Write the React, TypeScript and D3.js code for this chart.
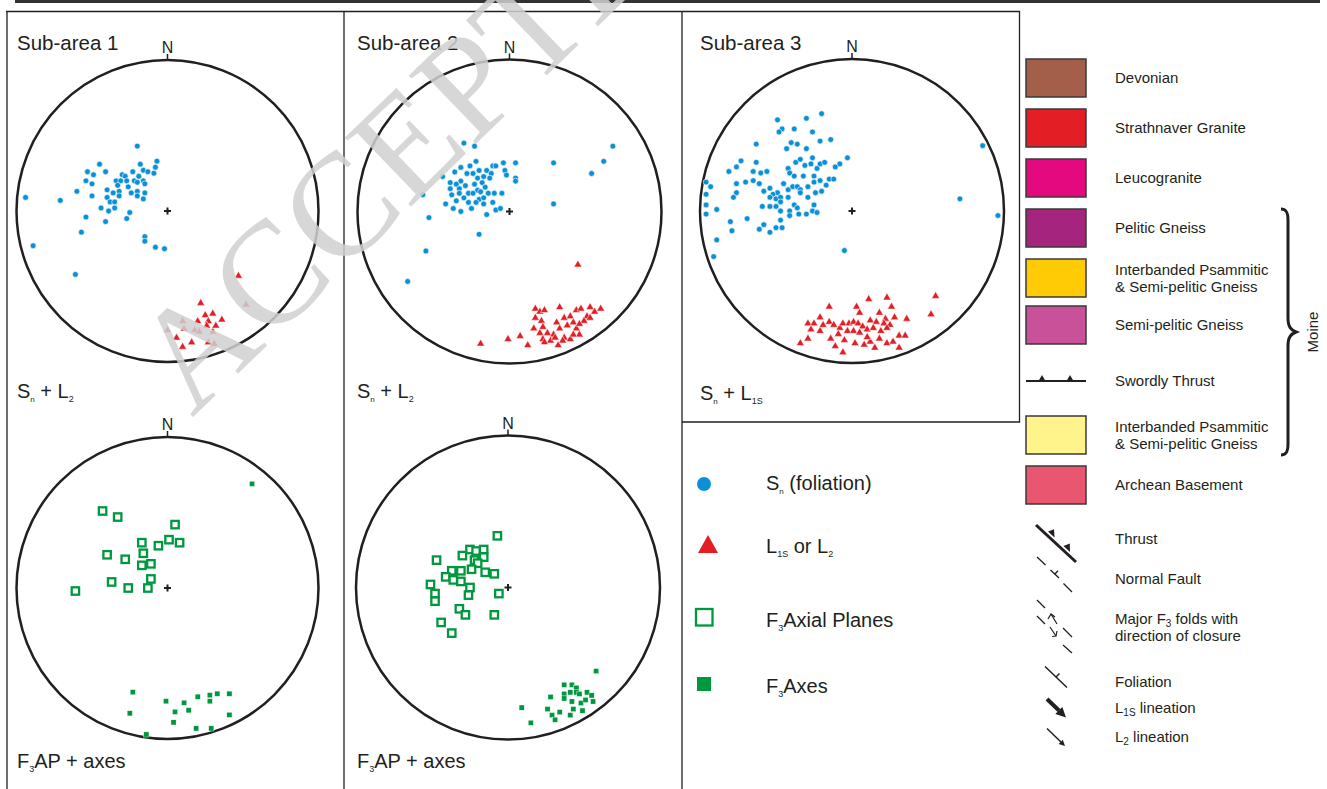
import React from "react";
import * as d3 from "d3";

type Pt = [number, number];

// projected positions on the net, unit radius (x to the east, y to the south)
const sub1Foliation: Pt[] = [
  [-0.2, -0.43], [-0.07, -0.33], [-0.45, -0.31], [-0.18, -0.31], [-0.08, -0.29], [-0.53, -0.26],
  [-0.49, -0.24], [-0.41, -0.26], [-0.23, -0.26], [-0.16, -0.27], [-0.13, -0.26], [-0.09, -0.25],
  [-0.3, -0.24], [-0.28, -0.23], [-0.34, -0.2], [-0.31, -0.2], [-0.27, -0.2], [-0.22, -0.2],
  [-0.19, -0.23], [-0.16, -0.2], [-0.54, -0.2], [-0.5, -0.18], [-0.2, -0.19], [-0.15, -0.18],
  [-0.33, -0.17], [-0.26, -0.16], [-0.4, -0.14], [-0.32, -0.13], [-0.24, -0.12], [-0.2, -0.13],
  [-0.15, -0.12], [-0.6, -0.13], [-0.5, -0.1], [-0.4, -0.09], [-0.36, -0.12], [-0.32, -0.1],
  [-0.2, -0.1], [-0.16, -0.08], [-0.94, -0.09], [-0.71, -0.07], [-0.38, -0.06], [-0.35, -0.06],
  [-0.44, -0.02], [-0.39, 0.0], [-0.35, -0.02], [-0.25, 0.01], [-0.54, 0.04], [-0.27, 0.05],
  [-0.41, 0.07], [-0.57, 0.14], [-0.15, 0.17], [-0.15, 0.2], [-0.08, 0.24], [-0.02, 0.25],
  [-0.89, 0.23], [-0.61, 0.42],
];
const sub1Lineation: Pt[] = [
  [0.47, 0.43], [0.52, 0.62], [0.22, 0.61], [0.25, 0.69], [0.3, 0.68], [0.1, 0.73], [0.2, 0.73],
  [0.27, 0.73], [0.36, 0.72], [0.0, 0.79], [0.11, 0.78], [0.18, 0.79], [0.21, 0.8], [0.3, 0.8],
  [0.06, 0.84], [0.16, 0.87], [0.27, 0.87], [0.31, 0.88], [0.1, 0.9], [0.26, 0.76], [0.32, 0.76],
];

const sub2Foliation: Pt[] = [
  [-0.3, -0.45], [-0.23, -0.43], [-0.22, -0.33], [-0.26, -0.3], [-0.32, -0.29], [-0.36, -0.26],
  [-0.44, -0.23], [-0.39, -0.19], [-0.32, -0.2], [-0.35, -0.18], [-0.28, -0.25], [-0.24, -0.25],
  [-0.2, -0.27], [-0.15, -0.27], [-0.11, -0.3], [-0.09, -0.3], [-0.04, -0.32], [0.04, -0.32],
  [-0.03, -0.27], [-0.02, -0.24], [0.04, -0.22], [0.04, -0.2], [-0.12, -0.25], [-0.17, -0.23],
  [-0.21, -0.22], [-0.13, -0.22], [-0.18, -0.19], [-0.23, -0.18], [-0.29, -0.17], [-0.33, -0.15],
  [-0.39, -0.15], [-0.21, -0.14], [-0.16, -0.16], [-0.27, -0.12], [-0.33, -0.12], [-0.38, -0.11],
  [-0.35, -0.07], [-0.3, -0.09], [-0.24, -0.12], [-0.19, -0.13], [-0.14, -0.12], [-0.1, -0.12],
  [-0.05, -0.12], [-0.42, -0.05], [-0.37, -0.02], [-0.32, 0.0], [-0.27, -0.06], [-0.25, -0.02],
  [-0.2, -0.08], [-0.17, -0.09], [-0.15, 0.02], [-0.11, -0.06], [-0.09, -0.01], [-0.06, -0.02],
  [-0.17, -0.05], [-0.22, -0.06], [-0.57, -0.11], [-0.53, 0.04], [-0.2, 0.15], [-0.55, 0.26],
  [-0.67, 0.46], [0.29, -0.32], [0.29, -0.05], [0.54, -0.25], [0.62, -0.33], [0.68, -0.43],
];
const sub2Lineation: Pt[] = [
  [0.45, 0.35], [-0.19, 0.87], [-0.01, 0.84], [0.07, 0.82], [0.12, 0.88], [0.17, 0.64], [0.2, 0.66],
  [0.23, 0.65], [0.33, 0.63], [0.17, 0.7], [0.21, 0.72], [0.16, 0.77], [0.2, 0.8], [0.22, 0.76],
  [0.25, 0.8], [0.29, 0.81], [0.22, 0.84], [0.27, 0.85], [0.32, 0.88], [0.36, 0.83], [0.4, 0.84],
  [0.46, 0.81], [0.36, 0.7], [0.4, 0.69], [0.44, 0.65], [0.47, 0.64], [0.53, 0.63], [0.6, 0.64],
  [0.56, 0.66], [0.51, 0.69], [0.49, 0.72], [0.42, 0.73], [0.38, 0.75], [0.33, 0.77], [0.31, 0.73],
  [0.44, 0.77], [0.42, 0.81], [0.35, 0.85], [0.3, 0.83], [0.46, 0.74], [0.53, 0.7], [0.23, 0.86],
];

const sub3Foliation: Pt[] = [
  [-0.49, -0.6], [-0.3, -0.61], [-0.2, -0.64], [-0.46, -0.54], [-0.48, -0.52], [-0.38, -0.54],
  [-0.26, -0.52], [-0.63, -0.44], [-0.4, -0.45], [-0.36, -0.44], [-0.43, -0.41], [-0.3, -0.41],
  [-0.21, -0.46], [-0.14, -0.47], [-0.73, -0.33], [-0.63, -0.32], [-0.81, -0.26], [-0.76, -0.29],
  [-0.65, -0.26], [-0.6, -0.25], [-0.56, -0.26], [-0.42, -0.28], [-0.37, -0.32], [-0.34, -0.34],
  [-0.31, -0.3], [-0.27, -0.31], [-0.26, -0.35], [-0.23, -0.28], [-0.21, -0.31], [-0.18, -0.32],
  [-0.11, -0.29], [-0.08, -0.31], [-0.03, -0.35], [-0.41, -0.25], [-0.38, -0.23], [-0.32, -0.23],
  [-0.25, -0.23], [-0.21, -0.2], [-0.15, -0.21], [-0.12, -0.21], [-0.17, -0.17], [-0.2, -0.13],
  [-0.76, -0.18], [-0.7, -0.19], [-0.65, -0.2], [-0.61, -0.18], [-0.96, -0.19], [-0.93, -0.16],
  [-0.96, -0.11], [-0.76, -0.12], [-0.78, -0.09], [-0.58, -0.13], [-0.54, -0.15], [-0.49, -0.12],
  [-0.52, -0.11], [-0.45, -0.18], [-0.42, -0.14], [-0.39, -0.16], [-0.36, -0.16], [-0.34, -0.14],
  [-0.29, -0.16], [-0.25, -0.19], [-0.24, -0.12], [-0.29, -0.09], [-0.34, -0.12], [-0.54, -0.09],
  [-0.5, -0.08], [-0.47, -0.09], [-0.42, -0.09], [-0.59, -0.03], [-0.54, -0.03], [-0.5, -0.03],
  [-0.47, -0.06], [-0.47, 0.0], [-0.38, -0.04], [-0.36, -0.02], [-0.41, 0.0], [-0.35, 0.02],
  [-0.3, 0.02], [-0.26, 0.0], [-0.23, 0.01], [-0.25, -0.04], [-0.96, -0.04], [-0.96, 0.02],
  [-0.89, -0.01], [-0.8, 0.07], [-0.79, 0.13], [-0.69, 0.05], [-0.61, 0.12], [-0.58, 0.09],
  [-0.54, 0.14], [-0.5, 0.11], [-0.46, 0.11], [-0.47, 0.06], [-0.41, 0.03], [-0.89, 0.19],
  [-0.91, 0.3], [-0.05, 0.26], [0.71, -0.08], [0.86, -0.43], [0.96, 0.03],
];
const sub3Lineation: Pt[] = [
  [-0.15, 0.63], [0.03, 0.63], [0.11, 0.58], [0.23, 0.57], [0.26, 0.63], [0.55, 0.56], [0.52, 0.68],
  [0.05, 0.67], [0.18, 0.67], [0.22, 0.71], [0.28, 0.7], [0.36, 0.71], [-0.21, 0.7], [-0.29, 0.74],
  [-0.25, 0.74], [-0.27, 0.78], [-0.21, 0.79], [-0.19, 0.75], [-0.15, 0.73], [-0.12, 0.75],
  [-0.08, 0.77], [-0.06, 0.74], [-0.02, 0.74], [0.01, 0.73], [0.04, 0.74], [0.07, 0.76], [0.12, 0.72],
  [0.16, 0.73], [0.21, 0.74], [0.25, 0.75], [-0.03, 0.79], [0.01, 0.79], [0.05, 0.8], [0.1, 0.78],
  [0.14, 0.77], [0.19, 0.79], [0.23, 0.77], [-0.34, 0.87], [-0.29, 0.84], [-0.14, 0.84], [-0.09, 0.81],
  [-0.05, 0.85], [-0.11, 0.89], [-0.06, 0.93], [0.02, 0.87], [0.08, 0.88], [0.12, 0.86], [0.15, 0.9],
  [0.18, 0.84], [0.23, 0.87], [0.27, 0.86], [0.31, 0.9], [0.31, 0.82], [0.35, 0.82], [0.1, 0.83],
];

const sub1AxialPlanes: Pt[] = [
  [-0.43, -0.51], [-0.33, -0.47], [0.05, -0.42], [-0.17, -0.3], [-0.06, -0.28], [0.01, -0.32],
  [0.08, -0.3], [-0.4, -0.22], [-0.28, -0.19], [-0.16, -0.23], [-0.17, -0.15], [-0.11, -0.16],
  [-0.37, -0.04], [-0.26, 0.0], [-0.13, 0.0], [-0.11, -0.06], [-0.61, 0.02],
];
const sub1Axes: Pt[] = [
  [0.56, -0.69], [-0.23, 0.69], [-0.25, 0.83], [-0.01, 0.75], [0.11, 0.76], [0.05, 0.82], [0.14, 0.81],
  [0.04, 0.89], [0.2, 0.72], [0.28, 0.71], [0.33, 0.7], [0.41, 0.7], [0.28, 0.75], [0.41, 0.84],
  [0.19, 0.93], [0.29, 0.93], [-0.14, 0.97],
];
const sub2AxialPlanes: Pt[] = [
  [-0.07, -0.34], [-0.47, -0.18], [-0.25, -0.25], [-0.21, -0.24], [-0.16, -0.25], [-0.3, -0.21],
  [-0.22, -0.18], [-0.16, -0.2], [-0.2, -0.16], [-0.24, -0.12], [-0.31, -0.11], [-0.37, -0.11],
  [-0.41, -0.07], [-0.36, -0.05], [-0.31, -0.04], [-0.15, -0.1], [-0.09, -0.09], [-0.51, -0.02],
  [-0.48, 0.04], [-0.48, 0.09], [-0.25, 0.0], [-0.26, 0.05], [-0.06, 0.04], [-0.32, 0.14],
  [-0.28, 0.18], [-0.09, 0.18], [-0.44, 0.23], [-0.37, 0.3],
];
const sub2Axes: Pt[] = [
  [0.58, 0.55], [0.37, 0.64], [0.42, 0.64], [0.45, 0.66], [0.28, 0.72], [0.37, 0.7], [0.41, 0.69],
  [0.45, 0.69], [0.47, 0.7], [0.52, 0.69], [0.55, 0.71], [0.37, 0.73], [0.42, 0.75], [0.48, 0.76],
  [0.51, 0.74], [0.56, 0.75], [0.09, 0.79], [0.26, 0.8], [0.34, 0.82], [0.43, 0.8], [0.49, 0.81],
  [0.29, 0.84], [0.31, 0.87], [0.41, 0.84], [0.15, 0.89],
];

const unitNames = [
  ["Devonian"],
  ["Strathnaver Granite"],
  ["Leucogranite"],
  ["Pelitic Gneiss"],
  ["Interbanded Psammitic", "& Semi-pelitic Gneiss"],
  ["Semi-pelitic Gneiss"],
  ["Swordly Thrust"],
  ["Interbanded Psammitic", "& Semi-pelitic Gneiss"],
  ["Archean Basement"],
];
const unitColors = ["#a35f49", "#e31e24", "#e4097f", "#a5247e", "#ffcb05", "#c9519a", null, "#fff38c", "#e9566f"];
const unitTops = [59, 109, 159, 209, 259, 306, 362, 416, 466];

const BLUE = "#0b8fd7";
const RED = "#e31e24";
const GREEN = "#00983f";
const INK = "#231f20";
const FONT = "'Liberation Sans', Arial, Helvetica, sans-serif";

type Part = { t: string; sub?: boolean; size?: number };

const Label = ({ x, y, size, parts, anchor }: { x: number; y: number; size: number; parts: Part[]; anchor?: string }) => (
  <text x={x} y={y} fontSize={size} fontFamily={FONT} fill={INK} textAnchor={anchor}>
    {parts.map((p, i) => {
      const prevSub = i > 0 && parts[i - 1].sub;
      const dy = p.sub ? (prevSub ? 0 : size * 0.22) : prevSub ? -size * 0.22 : 0;
      return (
        <tspan key={i} dy={dy} fontSize={p.sub ? p.size || size * 0.5 : size}>
          {p.t}
        </tspan>
      );
    })}
  </text>
);

const triangle = d3.symbol(d3.symbolTriangle, 27)() as string;

const Stereonet = ({
  cx, cy, r, dots = [], tris = [], open = [], filled = [],
}: { cx: number; cy: number; r: number; dots?: Pt[]; tris?: Pt[]; open?: Pt[]; filled?: Pt[] }) => {
  const x = d3.scaleLinear().domain([-1, 1]).range([cx - r, cx + r]);
  const y = d3.scaleLinear().domain([-1, 1]).range([cy - r, cy + r]);
  return (
    <g>
      <circle cx={cx} cy={cy} r={r} fill="none" stroke={INK} strokeWidth={2.5} />
      <line x1={cx} x2={cx} y1={cy - r - 6} y2={cy - r} stroke={INK} strokeWidth={1.5} />
      <text x={cx} y={cy - r - 7} fontSize={16} fontFamily={FONT} fill={INK} textAnchor="middle">N</text>
      <path d={`M${cx - 3.5},${cy}H${cx + 3.5}M${cx},${cy - 3.5}V${cy + 3.5}`} stroke={INK} strokeWidth={2} />
      {dots.map((d, i) => (
        <circle key={"d" + i} cx={x(d[0])} cy={y(d[1])} r={2.9} fill={BLUE} stroke="#fff" strokeWidth={0.6} />
      ))}
      {tris.map((d, i) => (
        <path key={"t" + i} d={triangle} transform={`translate(${x(d[0])},${y(d[1])})`} fill={RED} stroke="#fff" strokeWidth={0.5} />
      ))}
      {open.map((d, i) => (
        <rect key={"o" + i} x={x(d[0]) - 3.7} y={y(d[1]) - 3.7} width={7.4} height={7.4} fill="#fff" stroke={GREEN} strokeWidth={2.3} />
      ))}
      {filled.map((d, i) => (
        <rect key={"f" + i} x={x(d[0]) - 2.6} y={y(d[1]) - 2.6} width={5.2} height={5.2} fill={GREEN} stroke="#fff" strokeWidth={0.4} />
      ))}
    </g>
  );
};

const arrowHead = (x1: number, y1: number, x2: number, y2: number, len: number, half: number) => {
  const a = Math.atan2(y2 - y1, x2 - x1);
  const bx = x2 - len * Math.cos(a);
  const by = y2 - len * Math.sin(a);
  const px = -Math.sin(a) * half;
  const py = Math.cos(a) * half;
  return `M${x2},${y2}L${bx + px},${by + py}L${bx - px},${by - py}Z`;
};

export default function App() {
  return (
    <svg width={1327} height={789} style={{ position: "absolute", left: 0, top: 0, background: "#fff" }}>
      <rect width={1327} height={789} fill="#fff" />
      {/* frame */}
      <rect x={15} y={0} width={1305} height={3} fill="#333" />
      <g stroke={INK} strokeWidth={1.3} fill="none">
        <path d="M6,11.5H1019.5V422H682" />
        <path d="M7,11V789M344,11V789M682,11V789" />
      </g>

      {/* stereonets */}
      <Stereonet cx={167.5} cy={211} r={151} dots={sub1Foliation} tris={sub1Lineation} />
      <Stereonet cx={509.5} cy={211.5} r={152} dots={sub2Foliation} tris={sub2Lineation} />
      <Stereonet cx={852} cy={211} r={152} dots={sub3Foliation} tris={sub3Lineation} />
      <Stereonet cx={167.5} cy={588} r={151} open={sub1AxialPlanes} filled={sub1Axes} />
      <Stereonet cx={508} cy={587.5} r={152} open={sub2AxialPlanes} filled={sub2Axes} />

      <Label x={17} y={50} size={20.5} parts={[{ t: "Sub-area 1" }]} />
      <Label x={357} y={50} size={20.5} parts={[{ t: "Sub-area 2" }]} />
      <Label x={700} y={50} size={20.5} parts={[{ t: "Sub-area 3" }]} />
      <Label x={17} y={398} size={20} parts={[{ t: "S" }, { t: "n", sub: true, size: 8 }, { t: " + L" }, { t: "2", sub: true, size: 9 }]} />
      <Label x={357} y={398} size={20} parts={[{ t: "S" }, { t: "n", sub: true, size: 8 }, { t: " + L" }, { t: "2", sub: true, size: 9 }]} />
      <Label x={700} y={400} size={20} parts={[{ t: "S" }, { t: "n", sub: true, size: 8 }, { t: " + L" }, { t: "1S", sub: true, size: 9 }]} />
      <Label x={17} y={768} size={20} parts={[{ t: "F" }, { t: "3", sub: true, size: 9 }, { t: "AP + axes" }]} />
      <Label x={357} y={768} size={20} parts={[{ t: "F" }, { t: "3", sub: true, size: 9 }, { t: "AP + axes" }]} />

      {/* symbol legend */}
      <circle cx={704} cy={484} r={7} fill={BLUE} />
      <path d="M698,553L708,535L718,553Z" fill={RED} />
      <rect x={696} y={609} width={16.5} height={16.5} fill="#fff" stroke={GREEN} strokeWidth={2.3} />
      <rect x={697} y={677} width={14} height={14} fill={GREEN} />
      <Label x={766} y={490} size={20} parts={[{ t: "S" }, { t: "n", sub: true, size: 8 }, { t: " (foliation)" }]} />
      <Label x={766} y={553} size={20} parts={[{ t: "L" }, { t: "1S", sub: true, size: 9 }, { t: " or L" }, { t: "2", sub: true, size: 9 }]} />
      <Label x={766} y={627} size={20} parts={[{ t: "F" }, { t: "3", sub: true, size: 9 }, { t: "Axial Planes" }]} />
      <Label x={766} y={693} size={20} parts={[{ t: "F" }, { t: "3", sub: true, size: 9 }, { t: "Axes" }]} />

      {/* unit legend */}
      {unitNames.map((names, i) => {
        const top = unitTops[i];
        const mid = top + 19;
        const col = unitColors[i];
        return (
          <g key={i}>
            {col ? (
              <rect x={1026} y={top} width={60} height={38} fill={col} stroke="#3a3a3a" strokeWidth={1.5} />
            ) : (
              <g fill={INK}>
                <line x1={1026} x2={1086} y1={mid} y2={mid} stroke={INK} strokeWidth={2} />
                <path d={`M1038.5,${mid}L1042,${mid - 6}L1045.5,${mid}Z`} />
                <path d={`M1066.5,${mid}L1070,${mid - 6}L1073.5,${mid}Z`} />
              </g>
            )}
            <text x={1115} y={names.length > 1 ? mid - 3 : mid + 5} fontSize={15} fontFamily={FONT} fill={INK}>
              {names.map((n, j) => (
                <tspan key={j} x={1115} dy={j === 0 ? 0 : 17}>{n}</tspan>
              ))}
            </text>
          </g>
        );
      })}
      <path
        d="M1281,209C1286,209 1288,212 1288,220L1288,318C1288,327 1291,330 1296,332C1291,334 1288,337 1288,346L1288,444C1288,452 1286,455 1281,455"
        fill="none" stroke={INK} strokeWidth={3}
      />
      <text transform="translate(1318,332) rotate(-90)" fontSize={15} fontFamily={FONT} fill={INK} textAnchor="middle">Moine</text>

      {/* map symbol legend */}
      <g stroke={INK} fill="none" strokeLinecap="butt">
        <line x1={1036} y1={525} x2={1076} y2={562} strokeWidth={3} />
        <path d="M1037,557L1045.5,565M1050.5,570L1059,578M1063.5,583.5L1072,592" strokeWidth={1.3} />
        <path d="M1054.7,574.2L1058,570.8" strokeWidth={1.3} />
        <path d="M1037,600L1045,608M1063,628L1072,637M1037,616L1045,624M1063,645L1072,653" strokeWidth={1.3} />
        <path d="M1057,624L1051,614M1050,627L1056,636" strokeWidth={1.2} />
        <path d="M1048,619L1051,614L1055,617M1052,636.5L1056,636L1057,631" strokeWidth={1.2} />
        <line x1={1045} y1={666.5} x2={1067} y2={687.5} strokeWidth={1.5} />
        <path d="M1056,677L1059.5,673.5" strokeWidth={1.5} />
        <line x1={1047} y1={699} x2={1059} y2={710.5} strokeWidth={4} />
        <line x1={1047} y1={728.5} x2={1061} y2={742} strokeWidth={1.5} />
      </g>
      <g fill={INK}>
        <path d="M1048,531.5L1054.5,537.5L1054,529.3Z" />
        <path d="M1063.5,546L1070,552L1069.8,543.6Z" />
        <path d={arrowHead(1047, 699, 1066, 717.5, 10, 5)} />
        <path d={arrowHead(1047, 728.5, 1065, 746, 6, 3)} />
      </g>
      <Label x={1115} y={544} size={15} parts={[{ t: "Thrust" }]} />
      <Label x={1115} y={584} size={15} parts={[{ t: "Normal Fault" }]} />
      <Label x={1115} y={624} size={15} parts={[{ t: "Major F" }, { t: "3", sub: true, size: 10 }, { t: " folds with" }]} />
      <Label x={1115} y={641} size={15} parts={[{ t: "direction of closure" }]} />
      <Label x={1115} y={687} size={15} parts={[{ t: "Foliation" }]} />
      <Label x={1115} y={713} size={15} parts={[{ t: "L" }, { t: "1S", sub: true, size: 10 }, { t: " lineation" }]} />
      <Label x={1115} y={742} size={15} parts={[{ t: "L" }, { t: "2", sub: true, size: 10 }, { t: " lineation" }]} />

      {/* watermark */}
      <text
        transform="translate(192,418) rotate(-44)"
        fontSize={146}
        fontFamily="'Liberation Serif', 'Times New Roman', serif"
        fill="#d0d0d0"
        fillOpacity={0.85}
      >
        ACCEPTED
      </text>
    </svg>
  );
}
